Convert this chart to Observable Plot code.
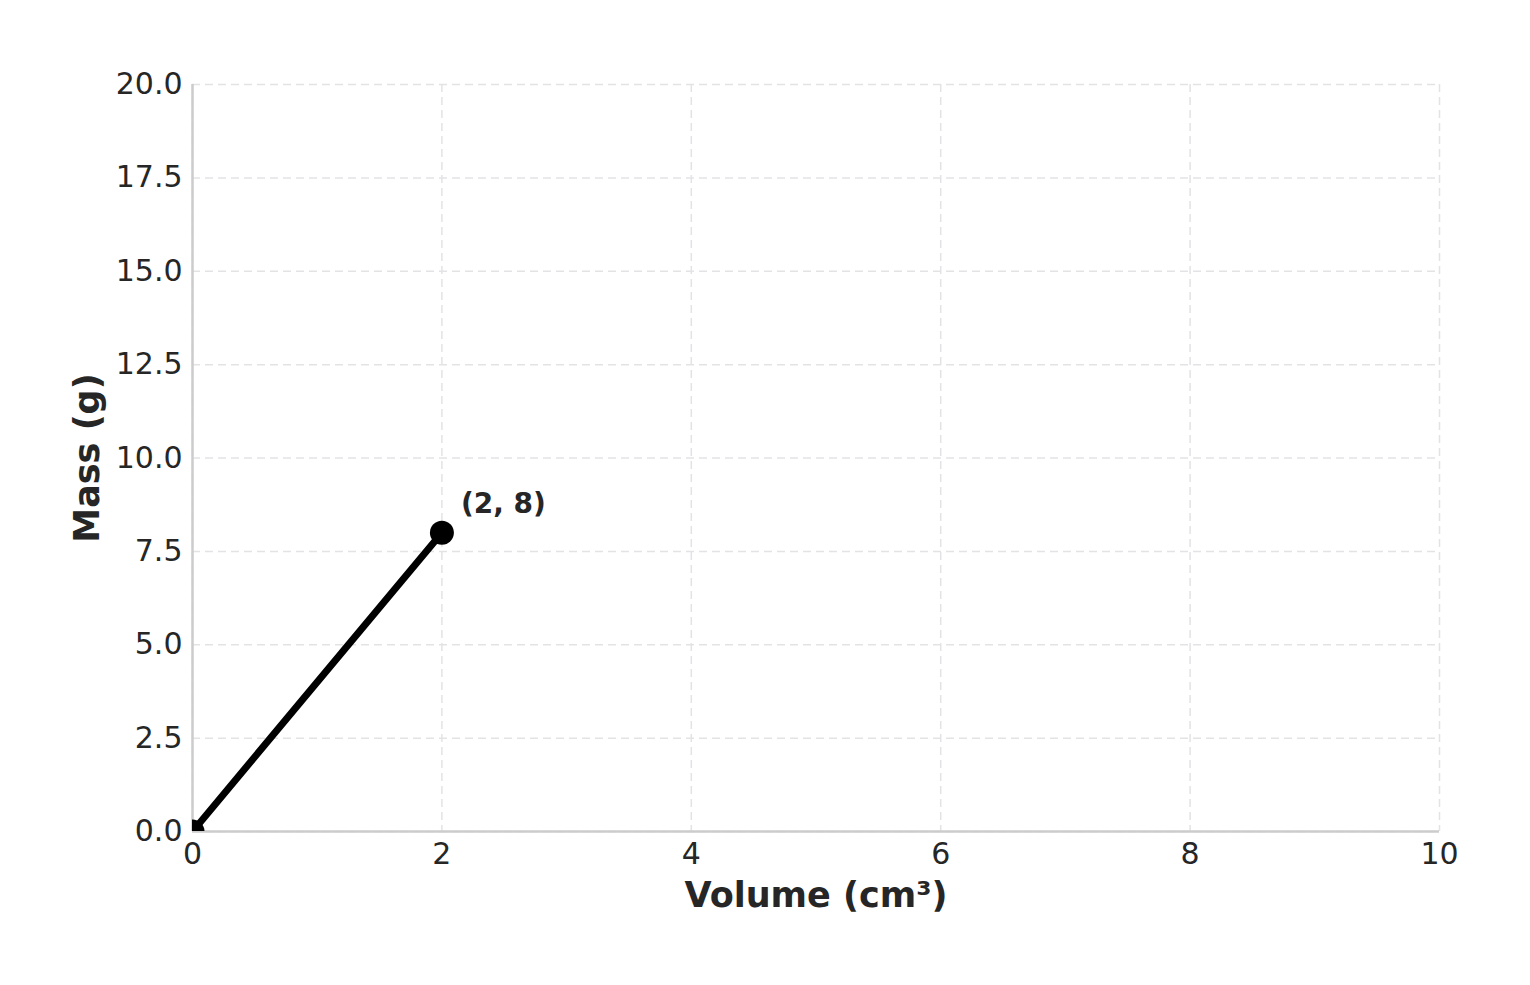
<!DOCTYPE html>
<html>
<head>
<meta charset="utf-8">
<script src="https://cdn.jsdelivr.net/npm/d3@7"></script>
<script src="https://cdn.jsdelivr.net/npm/@observablehq/plot@0.6"></script>
<style>
  html, body { margin: 0; padding: 0; background: #fff; }
  svg { display: block; }
</style>
</head>
<body>
<div id="chart"></div>
<script>
const volume = [0, 2];
const mass = [0, 8];
const xTicks = [0, 2, 4, 6, 8, 10];
const yTicks = [0, 2.5, 5, 7.5, 10, 12.5, 15, 17.5, 20];
const annotation = ["(2, 8)"];
const xLabel = "Volume (cm³)";
const yLabel = "Mass (g)";

const data = volume.map((v, i) => ({x: v, y: mass[i]}));
const last = [data[data.length - 1]];
const textColor = "#262626";

const chart = Plot.plot({
  width: 1530,
  height: 985,
  marginLeft: 192,
  marginRight: 91,
  marginTop: 84,
  marginBottom: 154,
  style: {fontFamily: "DejaVu Sans", background: "#fff", color: textColor},
  x: {domain: [0, 10]},
  y: {domain: [0, 20]},
  marks: [
    Plot.gridX(xTicks, {stroke: "#e3e3e6", strokeOpacity: 1, strokeWidth: 1.5, strokeDasharray: "8,5"}),
    Plot.gridY(yTicks, {stroke: "#e3e3e6", strokeOpacity: 1, strokeWidth: 1.5, strokeDasharray: "8,5"}),
    Plot.ruleX([0], {stroke: "#cccccc", strokeWidth: 2.5}),
    Plot.ruleY([0], {stroke: "#cccccc", strokeWidth: 2.5}),
    Plot.axisX({ticks: xTicks, tickSize: 0, tickPadding: 11, fontSize: 30, label: null, tickFormat: d3.format("d"), fill: textColor}),
    Plot.axisY({ticks: yTicks, tickSize: 0, tickPadding: 10, fontSize: 30, label: null, tickFormat: d3.format(".1f"), fill: textColor}),
    Plot.line(data, {x: "x", y: "y", stroke: "#000", strokeWidth: 7, clip: true}),
    Plot.dot(data, {x: "x", y: "y", r: 12, fill: "#000", stroke: "none", clip: true}),
    Plot.text(last, {x: "x", y: "y", text: () => annotation[0], dx: 19, dy: -29, textAnchor: "start", fontSize: 28, fontWeight: "bold", fill: textColor}),
    Plot.text([xLabel], {frameAnchor: "bottom", dy: 75, text: d => d, fontSize: 35, fontWeight: "bold", fill: textColor}),
    Plot.text([yLabel], {frameAnchor: "left", textAnchor: "middle", dx: -105, rotate: -90, text: d => d, fontSize: 35, fontWeight: "bold", fill: textColor})
  ]
});
document.getElementById("chart").appendChild(chart);
</script>
</body>
</html>
